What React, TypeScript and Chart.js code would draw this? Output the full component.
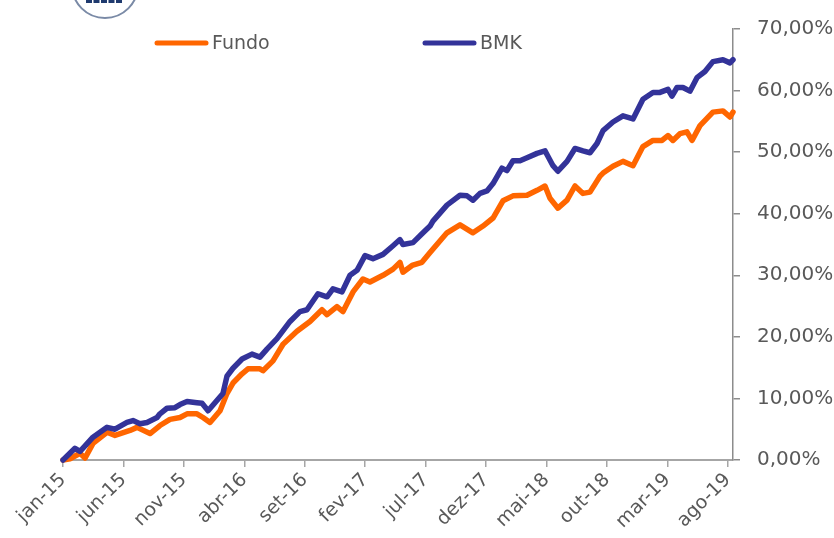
import React, { useEffect, useRef } from "react";
import { Chart, registerables } from "chart.js";

Chart.register(...registerables);

// ---- Data (x = months since jan-15, y = cumulative return in %) ----
const MONTH_NAMES = ["jan", "fev", "mar", "abr", "mai", "jun", "jul", "ago", "set", "out", "nov", "dez"];
const START_YEAR = 2015;
const X_TICK_STEP = 5;
const X_MAX = 55.42;
const Y_MAX = 70;
const Y_STEP = 10;

const bmkMonths = [0, 0.99, 1.41, 2.48, 3.64, 4.3, 5.29, 5.79, 6.37, 6.95, 7.78, 8.02, 8.6, 9.26, 9.68, 10.26, 11.08, 11.5, 12.0, 12.57, 13.23, 13.56, 14.06, 14.81, 15.63, 16.29, 16.87, 17.7, 18.78, 19.6, 20.18, 21.09, 21.84, 22.33, 23.08, 23.74, 24.32, 24.98, 25.64, 26.47, 27.3, 27.87, 28.12, 28.95, 29.78, 30.36, 30.6, 31.76, 32.84, 33.42, 33.91, 34.49, 35.07, 35.57, 36.31, 36.72, 37.22, 37.8, 38.38, 39.21, 39.87, 40.12, 40.53, 40.94, 41.69, 42.35, 43.01, 43.59, 44.17, 44.67, 45.49, 46.32, 47.15, 47.97, 48.8, 49.38, 50.04, 50.37, 50.79, 51.28, 51.86, 52.44, 53.1, 53.76, 54.59, 55.17, 55.42];
const bmkValues = [0.0, 1.9, 1.4, 3.7, 5.3, 5.0, 6.1, 6.4, 5.9, 6.1, 6.9, 7.5, 8.4, 8.5, 9.0, 9.5, 9.3, 9.2, 8.0, 9.3, 10.8, 13.6, 14.9, 16.4, 17.2, 16.7, 18.0, 19.7, 22.5, 24.1, 24.4, 27.0, 26.5, 27.8, 27.3, 30.0, 30.8, 33.2, 32.7, 33.4, 34.8, 35.8, 35.0, 35.3, 36.9, 38.0, 38.8, 41.4, 43.0, 42.9, 42.2, 43.3, 43.7, 44.9, 47.4, 47.0, 48.6, 48.6, 49.1, 49.8, 50.2, 49.3, 47.8, 46.9, 48.5, 50.6, 50.2, 49.9, 51.4, 53.5, 54.9, 55.9, 55.4, 58.6, 59.7, 59.7, 60.2, 59.1, 60.5, 60.5, 59.9, 62.1, 63.1, 64.7, 65.0, 64.5, 65.0];

const fundoMonths = [0, 0.58, 1.41, 1.82, 2.48, 3.64, 4.3, 5.54, 6.12, 7.2, 8.02, 8.85, 9.68, 10.26, 11.08, 11.58, 12.16, 12.99, 13.56, 14.06, 14.81, 15.3, 16.29, 16.54, 17.37, 18.2, 19.35, 20.43, 21.42, 21.84, 22.66, 23.16, 23.99, 24.81, 25.39, 26.47, 27.3, 27.87, 28.12, 28.87, 29.69, 30.36, 31.76, 32.84, 33.91, 34.74, 35.57, 36.39, 37.22, 38.38, 39.21, 39.87, 40.28, 40.94, 41.69, 42.35, 43.01, 43.59, 44.42, 44.67, 45.49, 46.32, 47.15, 47.97, 48.8, 49.55, 50.04, 50.45, 51.03, 51.61, 52.03, 52.69, 53.76, 54.59, 55.17, 55.42];
const fundoValues = [0.0, 0.2, 1.1, 0.3, 2.7, 4.5, 4.0, 4.8, 5.3, 4.3, 5.6, 6.6, 6.9, 7.5, 7.5, 6.9, 6.1, 8.0, 10.8, 12.5, 14.0, 14.8, 14.8, 14.5, 16.1, 18.8, 20.9, 22.5, 24.4, 23.6, 24.9, 24.1, 27.3, 29.4, 28.9, 30.0, 31.0, 32.1, 30.5, 31.6, 32.1, 33.7, 36.9, 38.2, 36.9, 38.0, 39.3, 42.1, 42.9, 43.0, 43.8, 44.5, 42.5, 40.9, 42.2, 44.5, 43.3, 43.5, 46.1, 46.6, 47.7, 48.5, 47.8, 50.9, 51.9, 51.9, 52.7, 51.9, 53.0, 53.3, 51.9, 54.3, 56.5, 56.7, 55.7, 56.5];

const SERIES_LABELS = ["Fundo", "BMK"];

// ---- Styles ----
const ORANGE = "#FF6600";
const BLUE = "#333399";
const TEXT = "#595959";
const AXIS = "#a6a6a6";
const FONT_FAMILY = "'DejaVu Sans', Verdana, sans-serif";

const toPoints = (xs: number[], ys: number[]) => xs.map((x, i) => ({ x, y: ys[i] }));

const monthLabel = (v: number) => {
  const m = Math.round(v);
  const name = MONTH_NAMES[((m % 12) + 12) % 12];
  const yr = (START_YEAR + Math.floor(m / 12)) % 100;
  return `${name}-${String(yr).padStart(2, "0")}`;
};

const decorPlugin = {
  id: "decor",
  afterDraw(chart: any) {
    const ctx = chart.ctx as CanvasRenderingContext2D;
    ctx.save();
    // partial logo circle at the top
    ctx.beginPath();
    ctx.arc(105, -15, 33, 0, Math.PI);
    ctx.strokeStyle = "#7a8aa6";
    ctx.lineWidth = 2;
    ctx.stroke();
    ctx.fillStyle = "#1f3a6e";
    for (let i = 0; i < 5; i++) {
      ctx.fillRect(86 + i * 7.5, 0, 6, 3);
    }
    // legend
    const items = [
      { label: SERIES_LABELS[0], color: ORANGE, x: 157 },
      { label: SERIES_LABELS[1], color: BLUE, x: 425 },
    ];
    const y = 43;
    ctx.font = `19px ${FONT_FAMILY}`;
    ctx.textBaseline = "middle";
    ctx.textAlign = "left";
    items.forEach((it) => {
      ctx.beginPath();
      ctx.moveTo(it.x, y);
      ctx.lineTo(it.x + 49, y);
      ctx.strokeStyle = it.color;
      ctx.lineWidth = 5;
      ctx.lineCap = "round";
      ctx.stroke();
      ctx.fillStyle = TEXT;
      ctx.fillText(it.label, it.x + 55, y + 1);
    });
    ctx.restore();
  },
};

export default function App() {
  const canvasRef = useRef<HTMLCanvasElement | null>(null);

  useEffect(() => {
    if (!canvasRef.current) return;
    const chart = new Chart(canvasRef.current, {
      type: "line",
      data: {
        datasets: [
          {
            label: SERIES_LABELS[1],
            data: toPoints(bmkMonths, bmkValues),
            borderColor: BLUE,
            backgroundColor: BLUE,
            borderWidth: 5.5,
            pointRadius: 0,
            tension: 0,
            borderJoinStyle: "round",
            borderCapStyle: "round",
            clip: false as any,
          },
          {
            label: SERIES_LABELS[0],
            data: toPoints(fundoMonths, fundoValues),
            borderColor: ORANGE,
            backgroundColor: ORANGE,
            borderWidth: 5.5,
            pointRadius: 0,
            tension: 0,
            borderJoinStyle: "round",
            borderCapStyle: "round",
            clip: false as any,
          },
        ],
      },
      options: {
        animation: false,
        responsive: false,
        maintainAspectRatio: false,
        layout: { padding: { left: 63, top: 24, right: 0, bottom: 0 } },
        plugins: {
          legend: { display: false },
          tooltip: { enabled: false },
        },
        scales: {
          x: {
            type: "linear",
            min: 0,
            max: X_MAX,
            afterFit: (s: any) => {
              s.height = 78;
            },
            border: { display: true, color: AXIS, width: 2 },
            grid: { drawOnChartArea: false, drawTicks: true, tickLength: 7, color: AXIS, lineWidth: 1.5 },
            ticks: {
              stepSize: X_TICK_STEP,
              includeBounds: false,
              autoSkip: false,
              maxRotation: 45,
              minRotation: 45,
              padding: 2,
              color: TEXT,
              font: { family: FONT_FAMILY, size: 19 },
              callback: (v: any) => monthLabel(Number(v)),
            },
          },
          y: {
            type: "linear",
            position: "right",
            min: 0,
            max: Y_MAX,
            afterFit: (s: any) => {
              s.width = 101;
            },
            border: { display: true, color: "#8c8c8c", width: 1.5 },
            grid: { drawOnChartArea: false, drawTicks: true, tickLength: 7, color: "#8c8c8c", lineWidth: 1.5 },
            ticks: {
              stepSize: Y_STEP,
              padding: 17,
              color: TEXT,
              font: { family: FONT_FAMILY, size: 20 },
              callback: (v: any) => Number(v).toFixed(2).replace(".", ",") + "%",
            },
          },
        },
      },
      plugins: [decorPlugin],
    });
    return () => chart.destroy();
  }, []);

  return (
    <div style={{ position: "absolute", left: 0, top: 0, width: 834, height: 538, background: "#fff" }}>
      <canvas ref={canvasRef} width={834} height={538} style={{ display: "block" }} />
    </div>
  );
}
